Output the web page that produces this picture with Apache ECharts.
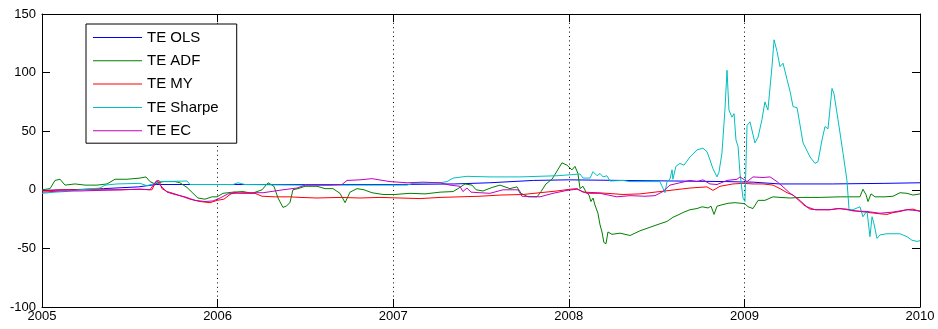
<!DOCTYPE html>
<html>
<head>
<meta charset="utf-8">
<title>Tracking error comparison 2005-2010</title>
<script src="https://cdn.jsdelivr.net/npm/echarts@6/dist/echarts.min.js"></script>
<style>
  html, body { margin: 0; padding: 0; background: #ffffff; }
  #chart { width: 938px; height: 329px; }
</style>
</head>
<body>
<div id="chart"></div>
<script>
// Series names, in plotting order
const seriesNames = ['TE OLS', 'TE ADF', 'TE MY', 'TE Sharpe', 'TE EC'];

// Axis ticks
const yearTicks = [2005, 2006, 2007, 2008, 2009, 2010];
const yTicks = [-100, -50, 0, 50, 100, 150];

// TE OLS: dates (decimal years) and values
const olsT = [2005.00, 2005.15, 2005.35, 2005.55, 2005.65, 2006.00, 2006.50, 2007.00, 2007.35, 2007.55,
              2007.80, 2008.00, 2008.30, 2008.60, 2008.90, 2009.05, 2009.20, 2009.50, 2009.80, 2010.00];
const olsV = [-0.5, 0, 1, 2.5, 4.5, 4.5, 4.5, 4.5, 5, 6,
              8, 8.5, 8, 7.5, 7, 6.5, 5, 5, 5.5, 6];

// TE ADF
const adfT = [2005.000, 2005.046, 2005.074, 2005.103, 2005.131, 2005.188, 2005.245, 2005.313, 2005.370, 2005.416,
              2005.484, 2005.558, 2005.592, 2005.615, 2005.644, 2005.689, 2005.757, 2005.786, 2005.826, 2005.860,
              2005.888, 2005.928, 2005.968, 2005.997, 2006.031, 2006.088, 2006.145, 2006.196, 2006.253, 2006.287,
              2006.321, 2006.344, 2006.372, 2006.390, 2006.412, 2006.429, 2006.458, 2006.498, 2006.566, 2006.612,
              2006.657, 2006.697, 2006.726, 2006.754, 2006.794, 2006.834, 2006.879, 2006.942, 2007.010, 2007.096,
              2007.181, 2007.267, 2007.341, 2007.369, 2007.409, 2007.449, 2007.472, 2007.511, 2007.563, 2007.608,
              2007.665, 2007.705, 2007.728, 2007.768, 2007.819, 2007.842, 2007.870, 2007.904, 2007.933, 2007.961,
              2007.990, 2008.018, 2008.035, 2008.052, 2008.064, 2008.081, 2008.098, 2008.115, 2008.126, 2008.138,
              2008.149, 2008.166, 2008.178, 2008.189, 2008.200, 2008.212, 2008.223, 2008.246, 2008.292, 2008.349,
              2008.405, 2008.462, 2008.519, 2008.559, 2008.593, 2008.622, 2008.656, 2008.690, 2008.730, 2008.759,
              2008.793, 2008.810, 2008.827, 2008.844, 2008.867, 2008.907, 2008.947, 2008.981, 2009.003, 2009.021,
              2009.049, 2009.078, 2009.117, 2009.163, 2009.203, 2009.260, 2009.317, 2009.431, 2009.545, 2009.658,
              2009.675, 2009.692, 2009.704, 2009.721, 2009.744, 2009.801, 2009.846, 2009.886, 2009.926, 2009.960,
              2010.000];
const adfV = [0, 1, 8, 9, 4, 5, 4, 4, 5, 9,
              9, 10, 11, 7, 5, 7, 7, 6, 2, -3,
              -7, -8, -6, -6, -3, -2, -1.5, -3, 0, 6,
              3, -7, -15, -14, -11, 0, 1, 3, 3, 1,
              1, -3, -11, -2, 1, 0, -2.5, -4, -4, -3,
              -3.5, -2, -1.5, 1, 5, 4, 0, -1, 2, 4,
              1, 2.5, -3, -6, -6, -1.5, 5, 9, 16, 23,
              21, 17, 20, 14, 1, 3, -2, -4.5, -10, -7,
              -13, -20, -30, -36, -45, -46, -36, -38, -37, -39,
              -35, -32, -29, -27, -23.5, -21.5, -19, -17, -16, -14.5,
              -15.5, -14, -21, -14, -13, -11.5, -11, -11.5, -12, -14.5,
              -16, -9, -9, -6, -6.5, -7, -6.5, -6.5, -6, -6,
              0.5, -4, -10, -3.5, -6, -6, -5.5, -2.5, -3, -4.5,
              -3.5];

// TE MY
const myT = [2005.000, 2005.103, 2005.216, 2005.330, 2005.444, 2005.558, 2005.626, 2005.649, 2005.666, 2005.683,
             2005.712, 2005.746, 2005.786, 2005.843, 2005.900, 2005.957, 2005.997, 2006.036, 2006.071, 2006.093,
             2006.128, 2006.213, 2006.253, 2006.327, 2006.412, 2006.469, 2006.566, 2006.697, 2006.811, 2006.925,
             2007.039, 2007.153, 2007.267, 2007.380, 2007.494, 2007.608, 2007.739, 2007.836, 2007.933, 2008.007,
             2008.047, 2008.081, 2008.161, 2008.217, 2008.309, 2008.405, 2008.519, 2008.633, 2008.690, 2008.787,
             2008.821, 2008.861, 2008.935, 2008.992, 2009.049, 2009.106, 2009.163, 2009.203, 2009.243, 2009.277,
             2009.317, 2009.339, 2009.374, 2009.413, 2009.487, 2009.545, 2009.584, 2009.658, 2009.715, 2009.772,
             2009.812, 2009.846, 2009.886, 2009.926, 2009.960, 2010.000];
const myV = [-1, 0, 0, 0, 0, 0.5, 0, 7, 8, 1,
             -1.5, -3, -5, -8, -10, -11, -9, -8, -4, -2,
             -3, -3, -5.5, -6, -6, -6.5, -7, -6.5, -7, -6.5,
             -7, -7.5, -6.5, -6, -5.5, -4.5, -4, -2.5, -1, 0.5,
             1, -2, -2.5, -3, -4, -3.5, -1.5, 0.5, 1.5, 2.5,
             -0.5, 3, 5, 5.5, 5, 5, 4, 1, -2.5, -4.5,
             -10, -13, -16.5, -17, -17, -16, -17, -18.5, -19.5, -20.5,
             -21, -19.5, -18.5, -17, -16.5, -18.5];

// TE Sharpe
const sharpeT = [2005.000, 2005.074, 2005.131, 2005.216, 2005.330, 2005.359, 2005.427, 2005.558, 2005.598, 2005.632,
                 2005.672, 2005.826, 2005.843, 2006.088, 2006.116, 2006.156, 2006.469, 2006.697, 2006.868, 2007.079,
                 2007.113, 2007.267, 2007.306, 2007.341, 2007.420, 2007.551, 2007.722, 2007.933, 2008.024, 2008.064,
                 2008.081, 2008.121, 2008.138, 2008.161, 2008.178, 2008.195, 2008.217, 2008.235, 2008.309, 2008.349,
                 2008.434, 2008.519, 2008.548, 2008.559, 2008.576, 2008.588, 2008.593, 2008.610, 2008.633, 2008.656,
                 2008.690, 2008.730, 2008.764, 2008.787, 2008.804, 2008.821, 2008.844, 2008.855, 2008.872, 2008.889,
                 2008.901, 2008.912, 2008.929, 2008.941, 2008.952, 2008.964, 2008.975, 2008.992, 2009.003, 2009.015,
                 2009.032, 2009.060, 2009.078, 2009.100, 2009.117, 2009.134, 2009.157, 2009.169, 2009.186, 2009.203,
                 2009.220, 2009.243, 2009.260, 2009.277, 2009.300, 2009.334, 2009.374, 2009.402, 2009.419, 2009.442,
                 2009.459, 2009.476, 2009.499, 2009.510, 2009.533, 2009.562, 2009.584, 2009.596, 2009.618, 2009.658,
                 2009.675, 2009.698, 2009.715, 2009.727, 2009.738, 2009.755, 2009.772, 2009.812, 2009.886, 2009.926,
                 2009.954, 2009.983, 2010.000];
const sharpeV = [-3, -2, -1.5, 0, 1.5, 4, 5, 5.5, 3.5, 5,
                 7, 7.5, 4.5, 4.5, 6, 4.5, 4, 4, 4, 4,
                 5.5, 6, 7, 10, 11.5, 11, 11, 12, 13, 13.5,
                 10, 10, 15.5, 12, 14, 11, 12, 7.5, 8, 7,
                 7, 7, -2.5, 7, 9, 17, 9, 20, 22.5, 21,
                 28, 34, 35.5, 32.5, 25.5, 18, 11, 15, 31, 68,
                 102, 68, 62, 65, 42.5, 36.8, 14, -7, -10, 55,
                 58, 40, 45, 60, 75, 68, 105, 128, 118, 105,
                 108, 94, 84, 71, 70, 40, 28, 22.5, 24, 42.5,
                 54, 52, 86.5, 82, 60, 31, 8, -17, -17, -14.5,
                 -23, -18, -40, -23, -29, -41.5, -38.5, -37.5, -37.5, -40,
                 -43, -44, -43.5];

// TE EC
const ecT = [2005.000, 2005.103, 2005.216, 2005.330, 2005.444, 2005.558, 2005.615, 2005.638, 2005.655, 2005.672,
             2005.712, 2005.757, 2005.814, 2005.871, 2005.928, 2005.974, 2006.014, 2006.059, 2006.145, 2006.259,
             2006.372, 2006.452, 2006.498, 2006.640, 2006.708, 2006.737, 2006.811, 2006.879, 2006.982, 2007.079,
             2007.170, 2007.267, 2007.323, 2007.380, 2007.397, 2007.420, 2007.443, 2007.494, 2007.551, 2007.625,
             2007.711, 2007.733, 2007.836, 2007.910, 2007.990, 2008.047, 2008.104, 2008.178, 2008.274, 2008.349,
             2008.434, 2008.491, 2008.536, 2008.576, 2008.633, 2008.690, 2008.730, 2008.764, 2008.804, 2008.844,
             2008.901, 2008.958, 2008.975, 2009.015, 2009.049, 2009.106, 2009.146, 2009.186, 2009.220, 2009.260,
             2009.300, 2009.356, 2009.402, 2009.487, 2009.527, 2009.584, 2009.618, 2009.698, 2009.772, 2009.846,
             2009.926, 2010.000];
const ecV = [-2, -1, -1, -0.5, 0, 0.5, 0, 5, 8, 4,
             -2, -4, -6, -9, -10, -9.5, -7, -3.5, -2.5, -2.5,
             0, 1.5, 4, 4, 4.5, 8, 8.5, 9.5, 7, 6,
             6.5, 6, 4, 3, -1.5, 1.5, -2, -2.5, -3, 0,
             0, -5.5, -6, -3, -0.5, 0.5, -3, -3, -6, -5,
             -5.5, -5, -1.5, 4, 6, 8, 7, 8.5, 5, 4.5,
             8, 9, 11, 7, 11, 10.5, 11, 7, 2.5, -3,
             -7, -14.5, -17, -17, -16, -16.5, -18, -18.5, -20, -19,
             -17, -18];

// MATLAB-style default line colours
const lineColors = ['#0000ff', '#008000', '#ff0000', '#00bfbf', '#bf00bf'];

const zip = (t, v) => t.map((x, i) => [x, v[i]]);
const seriesData = [zip(olsT, olsV), zip(adfT, adfV), zip(myT, myV), zip(sharpeT, sharpeV), zip(ecT, ecV)];

const FONT = "'Liberation Sans', Arial, Helvetica, sans-serif";

const frameLine = { show: true, onZero: false, lineStyle: { color: '#000', width: 1 } };
const frameTick = { show: true, inside: true, length: 8, lineStyle: { color: '#000', width: 1 } };

const chart = echarts.init(document.getElementById('chart'), null, { renderer: 'canvas' });

chart.setOption({
  animation: false,
  backgroundColor: '#ffffff',
  color: lineColors,
  grid: { left: 42, right: 18, top: 14, bottom: 22, containLabel: false },
  legend: {
    orient: 'vertical',
    left: 86,
    top: 24,
    data: seriesNames,
    icon: 'rect',
    itemWidth: 49,
    itemHeight: 1,
    itemGap: 8.3,
    padding: [6, 18, 5, 7],
    backgroundColor: '#ffffff',
    borderColor: '#000000',
    borderWidth: 1,
    borderRadius: 0,
    selectedMode: false,
    textStyle: { fontFamily: FONT, fontSize: 15, color: '#000' }
  },
  xAxis: [
    {
      type: 'value',
      position: 'bottom',
      min: yearTicks[0],
      max: yearTicks[yearTicks.length - 1],
      interval: 1,
      axisLine: frameLine,
      axisTick: frameTick,
      axisLabel: {
        margin: 3,
        fontFamily: FONT,
        fontSize: 13,
        color: '#000',
        formatter: v => String(Math.round(v))
      },
      splitLine: {
        show: true,
        lineStyle: { color: '#000', width: 1, type: [1, 3.4] }
      }
    },
    {
      type: 'value',
      position: 'top',
      min: yearTicks[0],
      max: yearTicks[yearTicks.length - 1],
      interval: 1,
      axisLine: frameLine,
      axisTick: frameTick,
      axisLabel: { show: false },
      splitLine: { show: false }
    }
  ],
  yAxis: [
    {
      type: 'value',
      position: 'left',
      min: yTicks[0],
      max: yTicks[yTicks.length - 1],
      interval: 50,
      axisLine: frameLine,
      axisTick: frameTick,
      axisLabel: { margin: 6, fontFamily: FONT, fontSize: 13, color: '#000' },
      splitLine: { show: false }
    },
    {
      type: 'value',
      position: 'right',
      min: yTicks[0],
      max: yTicks[yTicks.length - 1],
      interval: 50,
      axisLine: frameLine,
      axisTick: frameTick,
      axisLabel: { show: false },
      splitLine: { show: false }
    }
  ],
  series: seriesNames.map((name, i) => ({
    name: name,
    type: 'line',
    xAxisIndex: 0,
    yAxisIndex: 0,
    data: seriesData[i],
    symbol: 'none',
    showSymbol: false,
    smooth: false,
    lineStyle: { width: 1, color: lineColors[i] },
    itemStyle: { color: lineColors[i] },
    emphasis: { disabled: true }
  }))
});
</script>
</body>
</html>
